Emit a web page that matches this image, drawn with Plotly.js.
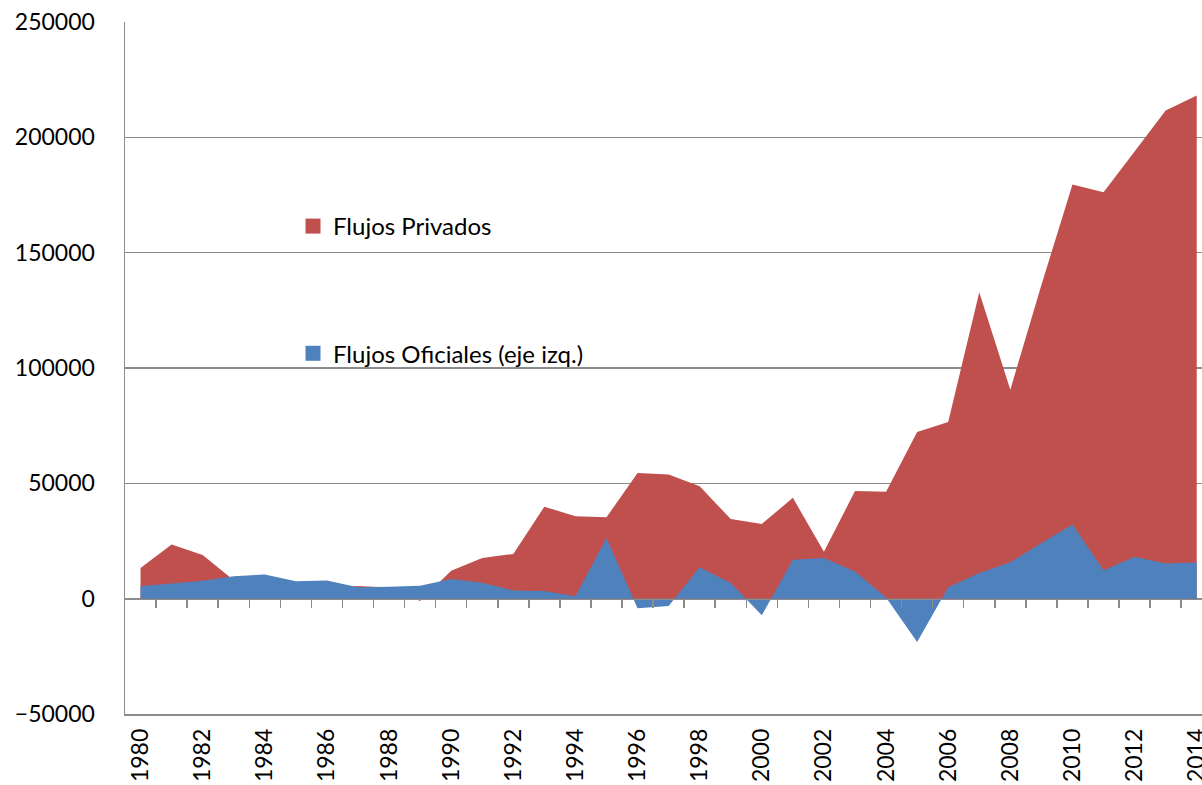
<!DOCTYPE html>
<html>
<head>
<meta charset="utf-8">
<script src="https://cdn.plot.ly/plotly-3.0.1.min.js"></script>
<style>html,body{margin:0;padding:0;background:#fff;overflow:hidden}</style>
</head>
<body>
<div id="chart" style="width:1202px;height:785px"></div>
<script>
const years = [1980,1981,1982,1983,1984,1985,1986,1987,1988,1989,
               1990,1991,1992,1993,1994,1995,1996,1997,1998,1999,
               2000,2001,2002,2003,2004,2005,2006,2007,2008,2009,
               2010,2011,2012,2013,2014];
const flujosPrivados = [13300,23500,18900,8000,5000,4500,4500,5500,4800,-1000,
                        12100,17600,19400,39900,35700,35300,54500,53800,48700,34500,
                        32400,43700,20300,46700,46400,72300,76600,132800,90600,136000,
                        179500,176200,193900,211600,218100];
const flujosOficiales = [5500,6600,7800,9700,10500,7500,7900,5000,5200,5600,
                         8500,6900,3500,3300,1000,26300,-4200,-3200,13600,6800,
                         -7200,16900,17600,11800,500,-18800,5000,11100,15800,24100,
                         32100,12300,18200,15200,15700];
const tickYears = [1980,1982,1984,1986,1988,1990,1992,1994,1996,1998,2000,2002,2004,2006,2008,2010,2012,2014];
const seriesNames = ['Flujos Privados', 'Flujos Oficiales (eje izq.)'];
const colors = ['#C0504D', '#4F81BD'];

const FONT = 'Lato, "DejaVu Sans", sans-serif';
const GRID = '#8C8C8C';
const between = years.slice(0, -1).map(y => y + 0.5);

const data = [
  {x: years, y: flujosPrivados, type: 'scatter', mode: 'none', fill: 'tozeroy',
   fillcolor: colors[0], showlegend: false, hoverinfo: 'x+y', name: seriesNames[0]},
  {x: years, y: flujosOficiales, type: 'scatter', mode: 'none', fill: 'tozeroy',
   fillcolor: colors[1], showlegend: false, hoverinfo: 'x+y', name: seriesNames[1]},
  {x: [null], y: [null], type: 'scatter', mode: 'markers', name: seriesNames[0],
   legendgroup: 'a', marker: {symbol: 'square', size: 15, color: colors[0]}},
  {x: [null], y: [null], type: 'scatter', mode: 'markers', name: seriesNames[1],
   legendgroup: 'b', marker: {symbol: 'square', size: 15, color: colors[1]}},
  {x: [null], y: [null], xaxis: 'x2', type: 'scatter', mode: 'none', showlegend: false, hoverinfo: 'skip'}
];

const layout = {
  width: 1202, height: 785,
  margin: {l: 125, r: 0, t: 22, b: 71, pad: 0},
  paper_bgcolor: '#fff', plot_bgcolor: '#fff',
  font: {family: FONT, size: 23, color: '#000'},
  showlegend: true,
  legend: {x: 0.156, y: 0.737, xanchor: 'left', yanchor: 'top',
           traceorder: 'grouped', tracegroupgap: 93, bgcolor: 'rgba(0,0,0,0)',
           font: {family: FONT, size: 24, color: '#000'}},
  xaxis: {range: [1979.5, 2014.17], tickvals: tickYears, ticktext: tickYears.map(String),
          tickangle: -90, ticks: '', showgrid: false, zeroline: false,
          showline: true, linecolor: GRID, linewidth: 1.5, ticklabelstandoff: 4,
          ticklabeloverflow: 'allow',
          tickfont: {family: FONT, size: 23, color: '#000'}, fixedrange: true},
  xaxis2: {overlaying: 'x', matches: 'x', anchor: 'free', position: 1/6, side: 'bottom',
           range: [1979.5, 2014.17], tickvals: between, ticks: 'outside', ticklen: 8,
           tickwidth: 1.5, tickcolor: GRID, showticklabels: false, showgrid: false,
           zeroline: false, showline: true, linecolor: GRID, linewidth: 1.5},
  yaxis: {range: [-50000, 250000], dtick: 50000, tick0: 0, showgrid: true,
          gridcolor: GRID, gridwidth: 1.5, zeroline: false, showline: true,
          linecolor: GRID, linewidth: 1.5, ticks: '', ticklabelstandoff: 24,
          tickformat: 'd', tickfont: {family: FONT, size: 23, color: '#000'}, fixedrange: true}
};

Plotly.newPlot('chart', data, layout, {displayModeBar: false, staticPlot: true});
</script>
</body>
</html>
